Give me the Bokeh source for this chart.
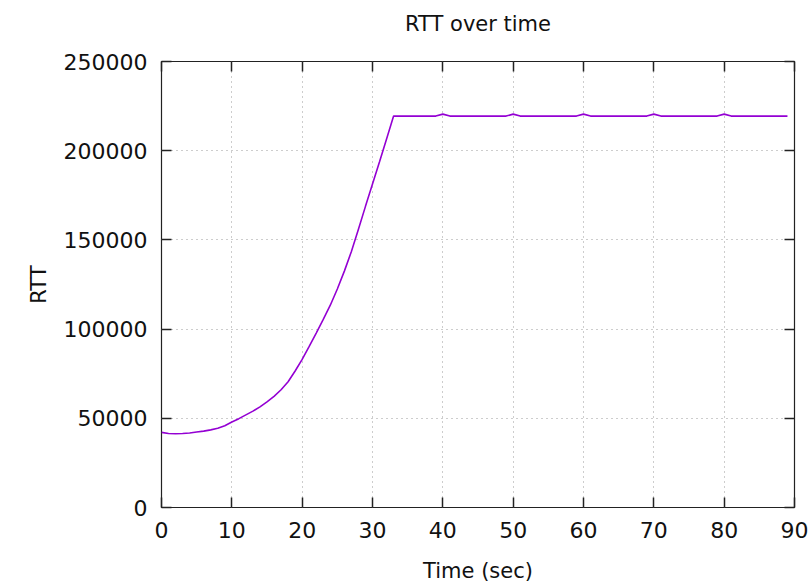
from bokeh.plotting import figure
from bokeh.embed import file_html
from bokeh.resources import INLINE
from bokeh.models import Range1d, FixedTicker, NumeralTickFormatter, LinearAxis, CustomJSTickFormatter

# ---- data ----
time_sec = list(range(0, 90))
rtt_rise = [42100, 41500, 41350, 41500, 41800, 42300, 42800, 43500, 44400, 45800,
            47900, 49800, 51900, 54000, 56400, 59200, 62300, 66000, 70500, 76500,
            83000, 90300, 97800, 105400, 113400, 122500, 132500, 143500, 156000, 168800,
            181300, 193800, 206500, 219400]
plateau = 219400
bump = 220500
bump_times = [40, 50, 60, 70, 80]
rtt = rtt_rise + [bump if t in bump_times else plateau for t in range(34, 90)]

x_ticks = [0, 10, 20, 30, 40, 50, 60, 70, 80, 90]
y_ticks = [0, 50000, 100000, 150000, 200000, 250000]

FONT = "DejaVu Sans"

p = figure(width=812, height=585, output_backend="svg", toolbar_location=None,
           x_range=Range1d(0, 90), y_range=Range1d(0, 250000),
           min_border_left=161, min_border_right=18, min_border_top=61, min_border_bottom=78)

p.line(time_sec, rtt, line_color="#9400d3", line_width=1.6)

p.title.text = "RTT over time"
p.title.align = "center"
p.title.vertical_align = "top"
p.title.text_font = FONT
p.title.text_font_size = "21px"
p.title.text_font_style = "normal"
p.title.text_color = "#111111"
p.title.standoff = 20

p.outline_line_color = "#222222"
p.outline_line_width = 1.2
p.background_fill_color = "white"
p.border_fill_color = "white"

def style_ticks(ax):
    ax.axis_line_color = None
    ax.major_tick_in = 10
    ax.major_tick_out = 0
    ax.minor_tick_in = 0
    ax.minor_tick_out = 0
    ax.major_tick_line_color = "#222222"
    ax.major_tick_line_width = 1.5
    ax.level = "overlay"

for ax in [p.xaxis[0], p.yaxis[0]]:
    style_ticks(ax)
    ax.major_label_text_font = FONT
    ax.major_label_text_font_size = "22px"
    ax.major_label_text_color = "#111111"
    ax.axis_label_text_font = FONT
    ax.axis_label_text_font_size = "21px"
    ax.axis_label_text_font_style = "normal"
    ax.axis_label_text_color = "#111111"

p.xaxis[0].ticker = FixedTicker(ticks=x_ticks)
p.yaxis[0].ticker = FixedTicker(ticks=y_ticks)
p.yaxis[0].formatter = NumeralTickFormatter(format="0")
p.xaxis[0].axis_label = "Time (sec)"
p.yaxis[0].axis_label = "RTT"
p.xaxis[0].major_label_standoff = 14
p.yaxis[0].major_label_standoff = 14
p.xaxis[0].axis_label_standoff = 18
p.yaxis[0].axis_label_standoff = 10

# mirror ticks on top and right
top = LinearAxis(ticker=FixedTicker(ticks=x_ticks))
right = LinearAxis(ticker=FixedTicker(ticks=y_ticks))
for ax in [top, right]:
    style_ticks(ax)
    ax.formatter = CustomJSTickFormatter(code="return ''")
    ax.major_label_standoff = 0
p.add_layout(top, "above")
p.add_layout(right, "right")

# invisible spacer between the top ticks and the title
spacer = LinearAxis(ticker=FixedTicker(ticks=x_ticks))
spacer.axis_line_color = None
spacer.major_tick_in = 0
spacer.major_tick_out = 14
spacer.minor_tick_in = 0
spacer.minor_tick_out = 0
spacer.major_tick_line_color = None
spacer.minor_tick_line_color = None
spacer.formatter = CustomJSTickFormatter(code="return ''")
spacer.major_label_standoff = 0
p.add_layout(spacer, "above")

p.xgrid.ticker = FixedTicker(ticks=x_ticks[1:-1])
p.ygrid.ticker = FixedTicker(ticks=y_ticks[1:-1])
for g in [p.xgrid[0], p.ygrid[0]]:
    g.grid_line_color = "#9a9a9a"
    g.grid_line_dash = "1 4"
    g.grid_line_width = 1

open("out.html", "w").write(file_html(p, INLINE))
